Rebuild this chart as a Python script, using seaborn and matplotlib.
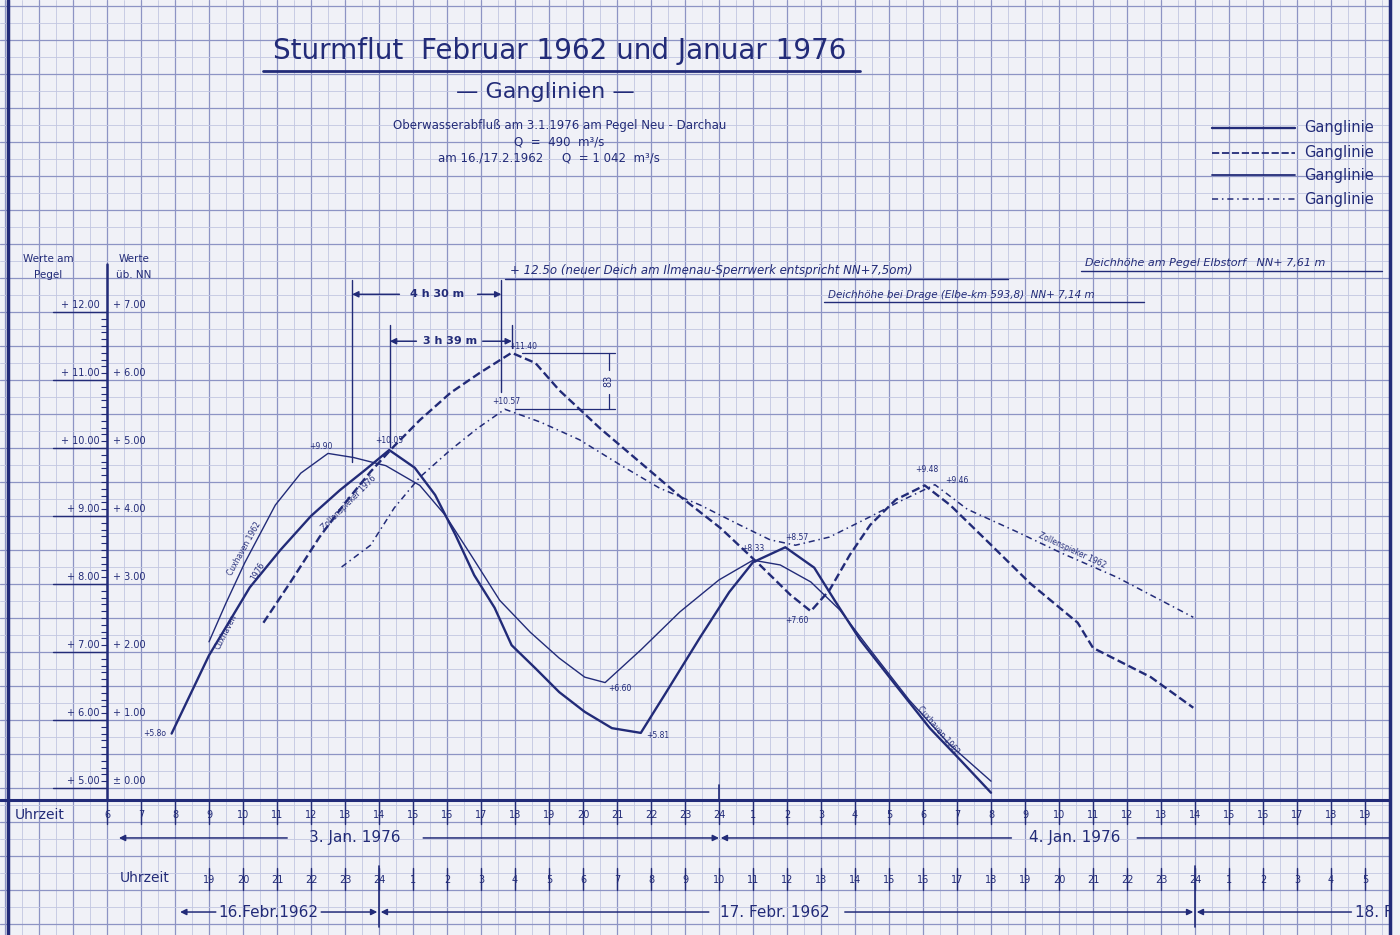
import numpy as np
import seaborn as sns
import matplotlib.pyplot as plt
from matplotlib.ticker import MultipleLocator

# x = hours from 3 Jan 1976 00:00; the 1962 curves are drawn on the same
# paper, shifted so that 16 Feb 1962 19:00 sits on 3 Jan 1976 09:00
cux76_h = [7.9, 9.0, 10.2, 11.1, 12.0, 12.85, 13.6, 14.3, 15.05, 15.65, 16.25, 16.8, 17.4, 17.9,
           18.6, 19.3, 20.05, 20.85, 21.7, 22.4, 23.45, 24.3, 25.0, 25.95, 26.8, 27.4, 28.15,
           29.2, 30.2, 31.1, 32.0]
cux76_v = [5.80, 6.95, 7.95, 8.50, 9.00, 9.38, 9.68, 9.97, 9.71, 9.31, 8.72, 8.13, 7.65, 7.10,
           6.76, 6.41, 6.12, 5.88, 5.81, 6.37, 7.22, 7.88, 8.32, 8.54, 8.24, 7.76, 7.18,
           6.51, 5.88, 5.41, 4.93]

cux62_h = [9.0, 9.5, 10.05, 10.95, 11.7, 12.5, 13.25, 14.2, 15.2, 15.95, 16.7, 17.55, 18.45,
           19.3, 20.05, 20.65, 21.7, 22.85, 24.0, 25.0, 25.8, 26.7, 27.55, 28.45, 29.6, 30.8, 32.0]
cux62_v = [7.15, 7.72, 8.31, 9.16, 9.63, 9.92, 9.86, 9.74, 9.45, 9.01, 8.43, 7.76, 7.29,
           6.91, 6.63, 6.55, 7.03, 7.59, 8.06, 8.35, 8.28, 8.03, 7.62, 7.03, 6.29, 5.63, 5.10]

zoll76_h = [10.6, 11.4, 12.25, 13.0, 13.75, 14.45, 15.2, 16.1, 16.95, 17.9, 18.6, 19.3, 20.5,
            21.7, 22.85, 24.05, 25.2, 26.1, 26.7, 27.25, 27.85, 28.45, 29.2, 30.05, 30.8, 31.95,
            33.15, 34.55, 35.0, 36.7, 37.95]
zoll76_v = [7.43, 8.03, 8.69, 9.19, 9.65, 10.03, 10.41, 10.81, 11.10, 11.40, 11.25, 10.85, 10.29,
            9.78, 9.29, 8.82, 8.28, 7.84, 7.60, 7.91, 8.43, 8.87, 9.24, 9.45, 9.16, 8.60,
            8.01, 7.43, 7.06, 6.63, 6.18]

zoll62_h = [12.9, 13.75, 14.45, 15.2, 16.1, 16.9, 17.7, 18.75, 19.9, 21.1, 22.25, 23.45, 24.6,
            25.5, 26.25, 27.25, 28.45, 29.3, 30.35, 31.3, 32.75, 34.05, 35.7, 37.95]
zoll62_v = [8.25, 8.57, 9.12, 9.57, 9.97, 10.29, 10.57, 10.38, 10.12, 9.75, 9.41, 9.16, 8.87,
            8.65, 8.57, 8.69, 8.99, 9.21, 9.46, 9.10, 8.77, 8.46, 8.10, 7.51]

# axis labels
pegel_ticks = [5, 6, 7, 8, 9, 10, 11, 12]
nn_labels = ["± 0.00", "+ 1.00", "+ 2.00", "+ 3.00", "+ 4.00", "+ 5.00", "+ 6.00", "+ 7.00"]
uhrzeit_1976 = [6, 7, 8, 9, 10, 11, 12, 13, 14, 15, 16, 17, 18, 19, 20, 21, 22, 23, 24,
                1, 2, 3, 4, 5, 6, 7, 8, 9, 10, 11, 12, 13, 14, 15, 16, 17, 18, 19]
uhrzeit_1962 = [19, 20, 21, 22, 23, 24, 1, 2, 3, 4, 5, 6, 7, 8, 9, 10, 11, 12, 13, 14, 15,
                16, 17, 18, 19, 20, 21, 22, 23, 24, 1, 2, 3, 4, 5]

# peak / trough notes written on the sheet: (hour, level, text, alignment)
peak_notes = [(7.75, 5.74, "+5.8o", "right"), (12.3, 9.96, "+9.90", "center"),
              (14.3, 10.05, "+10.05", "center"), (18.25, 11.42, "+11.40", "center"),
              (17.75, 10.62, "+10.57", "center"), (20.75, 6.40, "+6.60", "left"),
              (21.85, 5.70, "+5.81", "left"), (25.0, 8.45, "+8.33", "center"),
              (26.3, 8.62, "+8.57", "center"), (26.3, 7.40, "+7.60", "center"),
              (30.1, 9.62, "+9.48", "center"), (31.0, 9.46, "+9.46", "center")]

# names written along the curves: (hour, level, text, angle)
curve_names = [(10.05, 8.52, "Cuxhaven 1962", 61), (9.5, 7.3, "Cuxhaven", 63),
               (10.45, 8.18, "1976", 60), (13.1, 9.2, "Zollenspieker 1976", 45),
               (34.4, 8.5, "Zollenspieker 1962", -25), (30.45, 5.85, "Cuxhaven 1962", -50)]

INK = "#222b78"
PAPER = "#f0f1f7"
GRID_MAJ = "#8d94c4"
GRID_MIN = "#c2c6e1"

sns.set_theme(style="white")
plt.rcParams["font.family"] = ["DejaVu Sans"]

fig = plt.figure(figsize=(14, 9.35), dpi=100, facecolor=PAPER)
ax = fig.add_axes([0, 0, 1390 / 1400, 1])
ax.set_facecolor(PAPER)
ax.set_xlim(2.853, 43.735)
ax.set_ylim(2.838, 16.588)
ax.xaxis.set_major_locator(MultipleLocator(1))
ax.xaxis.set_minor_locator(MultipleLocator(0.5))
ax.yaxis.set_major_locator(MultipleLocator(0.5))
ax.yaxis.set_minor_locator(MultipleLocator(0.25))
ax.grid(which="major", color=GRID_MAJ, lw=0.9)
ax.grid(which="minor", color=GRID_MIN, lw=0.6)
ax.tick_params(which="both", length=0, labelbottom=False, labelleft=False)
ax.set_axisbelow(True)
for s in ["top", "bottom", "left"]:
    ax.spines[s].set_visible(False)
ax.spines["right"].set_color(INK)
ax.spines["right"].set_linewidth(2.5)

# the four curves
curves = [
    (cux76_h, cux76_v, 1.7, "-"),
    (cux62_h, cux62_v, 1.0, "-"),
    (zoll76_h, zoll76_v, 1.7, (0, (3.5, 1.6))),
    (zoll62_h, zoll62_v, 1.1, (0, (4, 2.5, 1, 2.5))),
]
for hh, vv, lw, ls in curves:
    sns.lineplot(x=hh, y=vv, ax=ax, color=INK, lw=lw, linestyle=ls,
                 sort=False, estimator=None, legend=False)
ax.set_xlabel("")
ax.set_ylabel("")

AX_Y = 4.824
ax.plot([2.853, 43.735], [AX_Y, AX_Y], color=INK, lw=2.2)
ax.plot([6, 6], [AX_Y, 12.7], color=INK, lw=1.8)
ax.plot([3.09, 3.09], [2.838, 16.588], color=INK, lw=2.5)

# level ruler
ax.hlines(np.arange(5, 12.01, 0.1), 5.82, 6.0, color=INK, lw=0.8)
for v, nn in zip(pegel_ticks, nn_labels):
    ax.plot([4.4, 6.0], [v, v], color=INK, lw=1.0)
    ax.text(5.78, v + 0.03, f"+ {v:.2f}", ha="right", va="bottom", fontsize=7, color=INK)
    ax.text(6.18, v + 0.03, nn, ha="left", va="bottom", fontsize=7, color=INK)
ax.text(4.26, 12.78, "Werte am", ha="center", va="center", fontsize=7.5, color=INK)
ax.text(4.26, 12.54, "Pegel", ha="center", va="center", fontsize=7.5, color=INK)
ax.text(6.79, 12.78, "Werte", ha="center", va="center", fontsize=7.5, color=INK)
ax.text(6.79, 12.54, "üb. NN", ha="center", va="center", fontsize=7.5, color=INK)

# time axes
for h, lab in zip(range(6, 44), uhrzeit_1976):
    ax.plot([h, h], [AX_Y, 4.47], color=INK, lw=1.0)
    ax.text(h, 4.60, str(lab), ha="center", va="center", fontsize=7, color=INK)
for h, lab in zip(range(9, 44), uhrzeit_1962):
    ax.plot([h, h], [3.82, 3.50], color=INK, lw=1.0)
    ax.text(h, 3.647, str(lab), ha="center", va="center", fontsize=7, color=INK)
ax.text(4.03, 4.60, "Uhrzeit", ha="center", va="center", fontsize=10, color=INK)
ax.text(7.12, 3.676, "Uhrzeit", ha="center", va="center", fontsize=10, color=INK)
ax.plot([24, 24], [AX_Y, 5.05], color=INK, lw=1.2)
for h in [14, 38]:
    ax.plot([h, h], [3.85, 2.95], color=INK, lw=1.2)


def arrow(tip, start, y, head=True):
    ax.annotate("", xy=(tip, y), xytext=(start, y),
                arrowprops=dict(arrowstyle="-|>" if head else "-", color=INK, lw=1.1,
                                mutation_scale=9, shrinkA=0, shrinkB=0))


row1, row2 = 4.265, 3.176
arrow(6.35, 11.3, row1)
arrow(24.0, 15.3, row1)
ax.text(13.3, row1, "3. Jan. 1976", ha="center", va="center", fontsize=11, color=INK)
arrow(24.05, 32.6, row1)
arrow(43.735, 36.3, row1, head=False)
ax.text(34.45, row1, "4. Jan. 1976", ha="center", va="center", fontsize=11, color=INK)

arrow(8.15, 9.2, row2)
arrow(13.95, 12.3, row2)
ax.text(10.75, row2, "16.Febr.1962", ha="center", va="center", fontsize=11, color=INK)
arrow(14.05, 23.7, row2)
arrow(37.95, 27.7, row2)
ax.text(25.65, row2, "17. Febr. 1962", ha="center", va="center", fontsize=11, color=INK)
arrow(38.05, 42.6, row2)
ax.text(42.7, row2, "18. F", ha="left", va="center", fontsize=11, color=INK)

# heading
ax.text(19.3, 15.84, "Sturmflut  Februar 1962 und Januar 1976", ha="center", va="center",
        fontsize=20, color=INK)
ax.plot([10.59, 28.15], [15.55, 15.55], color=INK, lw=2)
ax.text(18.9, 15.24, "— Ganglinien —", ha="center", va="center", fontsize=16, color=INK)
ax.text(19.3, 14.74, "Oberwasserabfluß am 3.1.1976 am Pegel Neu - Darchau", ha="center",
        va="center", fontsize=8.5, color=INK)
ax.text(19.3, 14.50, "Q  =  490  m³/s", ha="center", va="center", fontsize=8.5, color=INK)
ax.text(19.0, 14.26, "am 16./17.2.1962     Q  = 1 042  m³/s", ha="center", va="center",
        fontsize=8.5, color=INK)

# legend, only the start of the words is on the sheet
legend_rows = [(14.71, 1.7, "-"), (14.34, 1.3, (0, (4, 1.5))),
               (14.01, 1.3, "-"), (13.66, 1.1, (0, (4, 2.5, 1, 2.5)))]
for y, lw, ls in legend_rows:
    ax.plot([38.5, 40.94], [y, y], color=INK, lw=lw, linestyle=ls)
    ax.text(41.2, y, "Ganglinie", ha="left", va="center", fontsize=10.5, color=INK)

# dike heights
ax.text(17.85, 12.52, "+ 12.5o (neuer Deich am Ilmenau-Sperrwerk entspricht NN+7,5om)",
        ha="left", va="bottom", fontsize=8.5, style="italic", color=INK)
ax.plot([17.7, 32.5], [12.48, 12.48], color=INK, lw=1.0)
ax.text(27.2, 12.17, "Deichhöhe bei Drage (Elbe-km 593,8)  NN+ 7,14 m", ha="left",
        va="bottom", fontsize=7.5, style="italic", color=INK)
ax.plot([27.1, 36.5], [12.14, 12.14], color=INK, lw=1.0)
ax.text(34.75, 12.64, "Deichhöhe am Pegel Elbstorf   NN+ 7,61 m", ha="left", va="bottom",
        fontsize=8, style="italic", color=INK)
ax.plot([34.65, 43.5], [12.61, 12.61], color=INK, lw=1.0)

# time shift of the peaks
ax.plot([13.21, 13.21], [12.47, 9.80], color=INK, lw=1.0)
ax.plot([17.6, 17.6], [12.47, 10.82], color=INK, lw=1.0)
arrow(13.21, 14.6, 12.26)
arrow(17.6, 16.9, 12.26)
ax.text(15.72, 12.26, "4 h 30 m", ha="center", va="center", fontsize=8, color=INK,
        fontweight="bold")
ax.plot([14.32, 14.32], [11.81, 10.02], color=INK, lw=1.0)
ax.plot([17.91, 17.91], [11.81, 11.47], color=INK, lw=1.0)
arrow(14.32, 15.1, 11.57)
arrow(17.91, 17.05, 11.57)
ax.text(16.08, 11.57, "3 h 39 m", ha="center", va="center", fontsize=8, color=INK,
        fontweight="bold")
ax.plot([18.2, 20.95], [11.40, 11.40], color=INK, lw=0.9)
ax.plot([18.0, 20.95], [10.57, 10.57], color=INK, lw=0.9)
ax.plot([20.75, 20.75], [11.40, 11.15], color=INK, lw=0.9)
ax.plot([20.75, 20.75], [10.57, 10.80], color=INK, lw=0.9)
ax.text(20.75, 10.98, "83", ha="center", va="center", rotation=90, fontsize=7, color=INK)

for h, v, txt, ha in peak_notes:
    ax.text(h, v, txt, ha=ha, va="bottom", fontsize=5.5, color=INK)

for h, v, txt, rot in curve_names:
    ax.text(h, v, txt, ha="center", va="center", rotation=rot, fontsize=5.5, color=INK)

fig.savefig("out.png", dpi=100, facecolor=PAPER)
